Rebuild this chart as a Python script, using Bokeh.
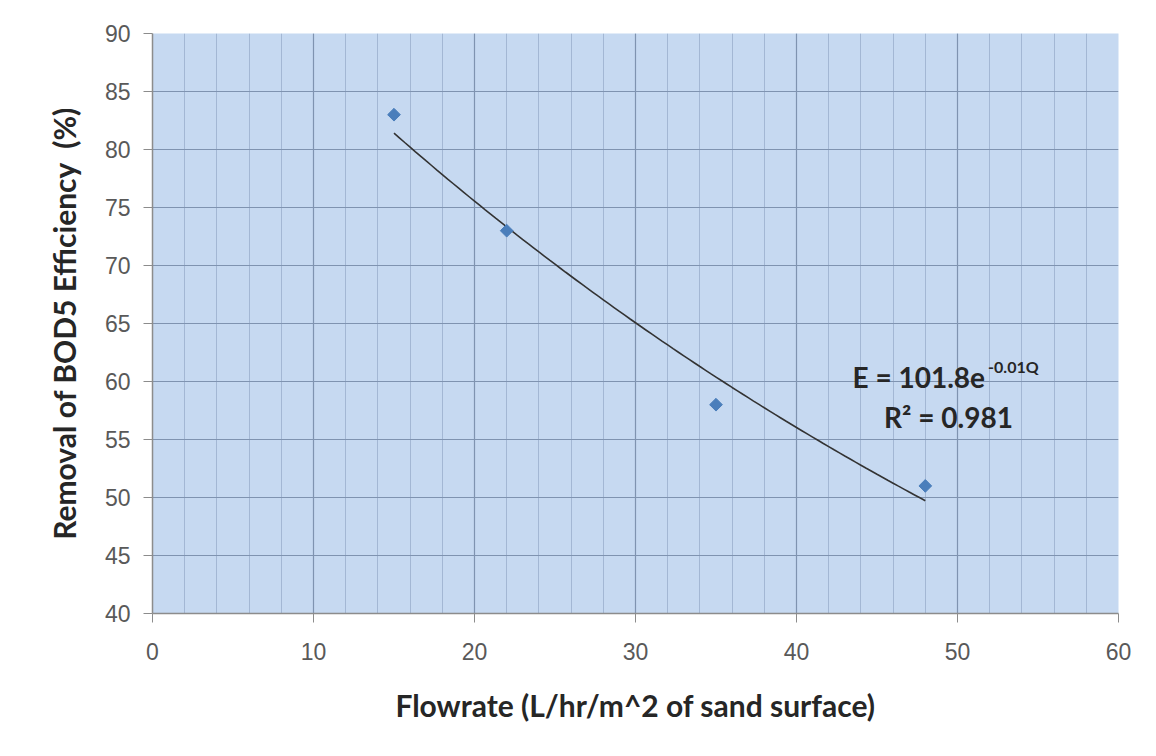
import numpy as np
from bokeh.plotting import figure
from bokeh.models import SingleIntervalTicker, Label, Range1d
from bokeh.embed import file_html
from bokeh.resources import INLINE

# Data
flowrate = [15, 22, 35, 48]
removal = [83, 73, 58, 51]
eq_text = "E = 101.8e"
eq_sup = "-0.01Q"
r2_text = "R\u00b2 = 0.981"
x_title = "Flowrate (L/hr/m^2 of sand surface)"
y_title = "Removal of BOD5 Efficiency\u00a0 (%)"

# Exponential trend fitted from the data
b, a = np.polyfit(flowrate, np.log(removal), 1)
tx = np.linspace(min(flowrate), max(flowrate), 100)
ty = np.exp(a) * np.exp(b * tx)

W, H = 1150, 750
p = figure(width=W, height=H, output_backend="svg", toolbar_location=None,
           x_range=Range1d(0, 60), y_range=Range1d(40, 90),
           min_border_left=152, min_border_top=33,
           min_border_right=W - 1118, min_border_bottom=H - 613)

p.background_fill_color = "#c6d9f1"
p.border_fill_color = "white"
p.outline_line_color = None

p.xaxis.ticker = SingleIntervalTicker(interval=10, num_minor_ticks=5)
p.yaxis.ticker = SingleIntervalTicker(interval=5, num_minor_ticks=0)

for ax in (p.xaxis, p.yaxis):
    ax.axis_line_color = "#8c8c8c"
    ax.axis_line_width = 1.5
    ax.major_tick_line_color = "#8c8c8c"
    ax.major_tick_out = 9
    ax.major_tick_in = 0
    ax.minor_tick_line_color = None
    ax.major_label_text_font = "Liberation Sans"
    ax.major_label_text_font_size = "23px"
    ax.major_label_text_color = "#595959"
    ax.axis_label_text_font = "Lato"
    ax.axis_label_text_font_style = "bold"
    ax.axis_label_text_font_size = "30px"
    ax.axis_label_text_color = "#262626"

p.xaxis.major_label_standoff = 20
p.xaxis.axis_label = x_title
p.xaxis.axis_label_standoff = 24
p.yaxis.major_label_standoff = 13
p.yaxis.axis_label = y_title
p.yaxis.axis_label_standoff = 20

p.xgrid.grid_line_color = "#7f93b0"
p.xgrid.grid_line_width = 1.2
p.xgrid.minor_grid_line_color = "#a3b7d4"
p.xgrid.minor_grid_line_width = 1
p.ygrid.grid_line_color = "#7f93b0"
p.ygrid.grid_line_width = 1.2

p.line(tx, ty, line_color="#333333", line_width=1.6)
p.scatter(flowrate, removal, marker="square", angle=np.pi / 4, size=9,
          fill_color="#4a7ebb", line_color="#4a7ebb")

p.add_layout(Label(x=43.48, y=60.4, text=eq_text, text_font="Lato", text_font_style="bold",
                   text_font_size="28px", text_color="#262626", text_baseline="middle", text_align="left"))
p.add_layout(Label(x=51.9, y=61.3, text=eq_sup, text_font="Lato", text_font_style="bold",
                   text_font_size="16px", text_color="#262626", text_baseline="middle", text_align="left"))
p.add_layout(Label(x=49.44, y=56.9, text=r2_text, text_font="Lato", text_font_style="bold",
                   text_font_size="28px", text_color="#262626", text_baseline="middle", text_align="center"))

open("out.html", "w").write(file_html(p, INLINE))
